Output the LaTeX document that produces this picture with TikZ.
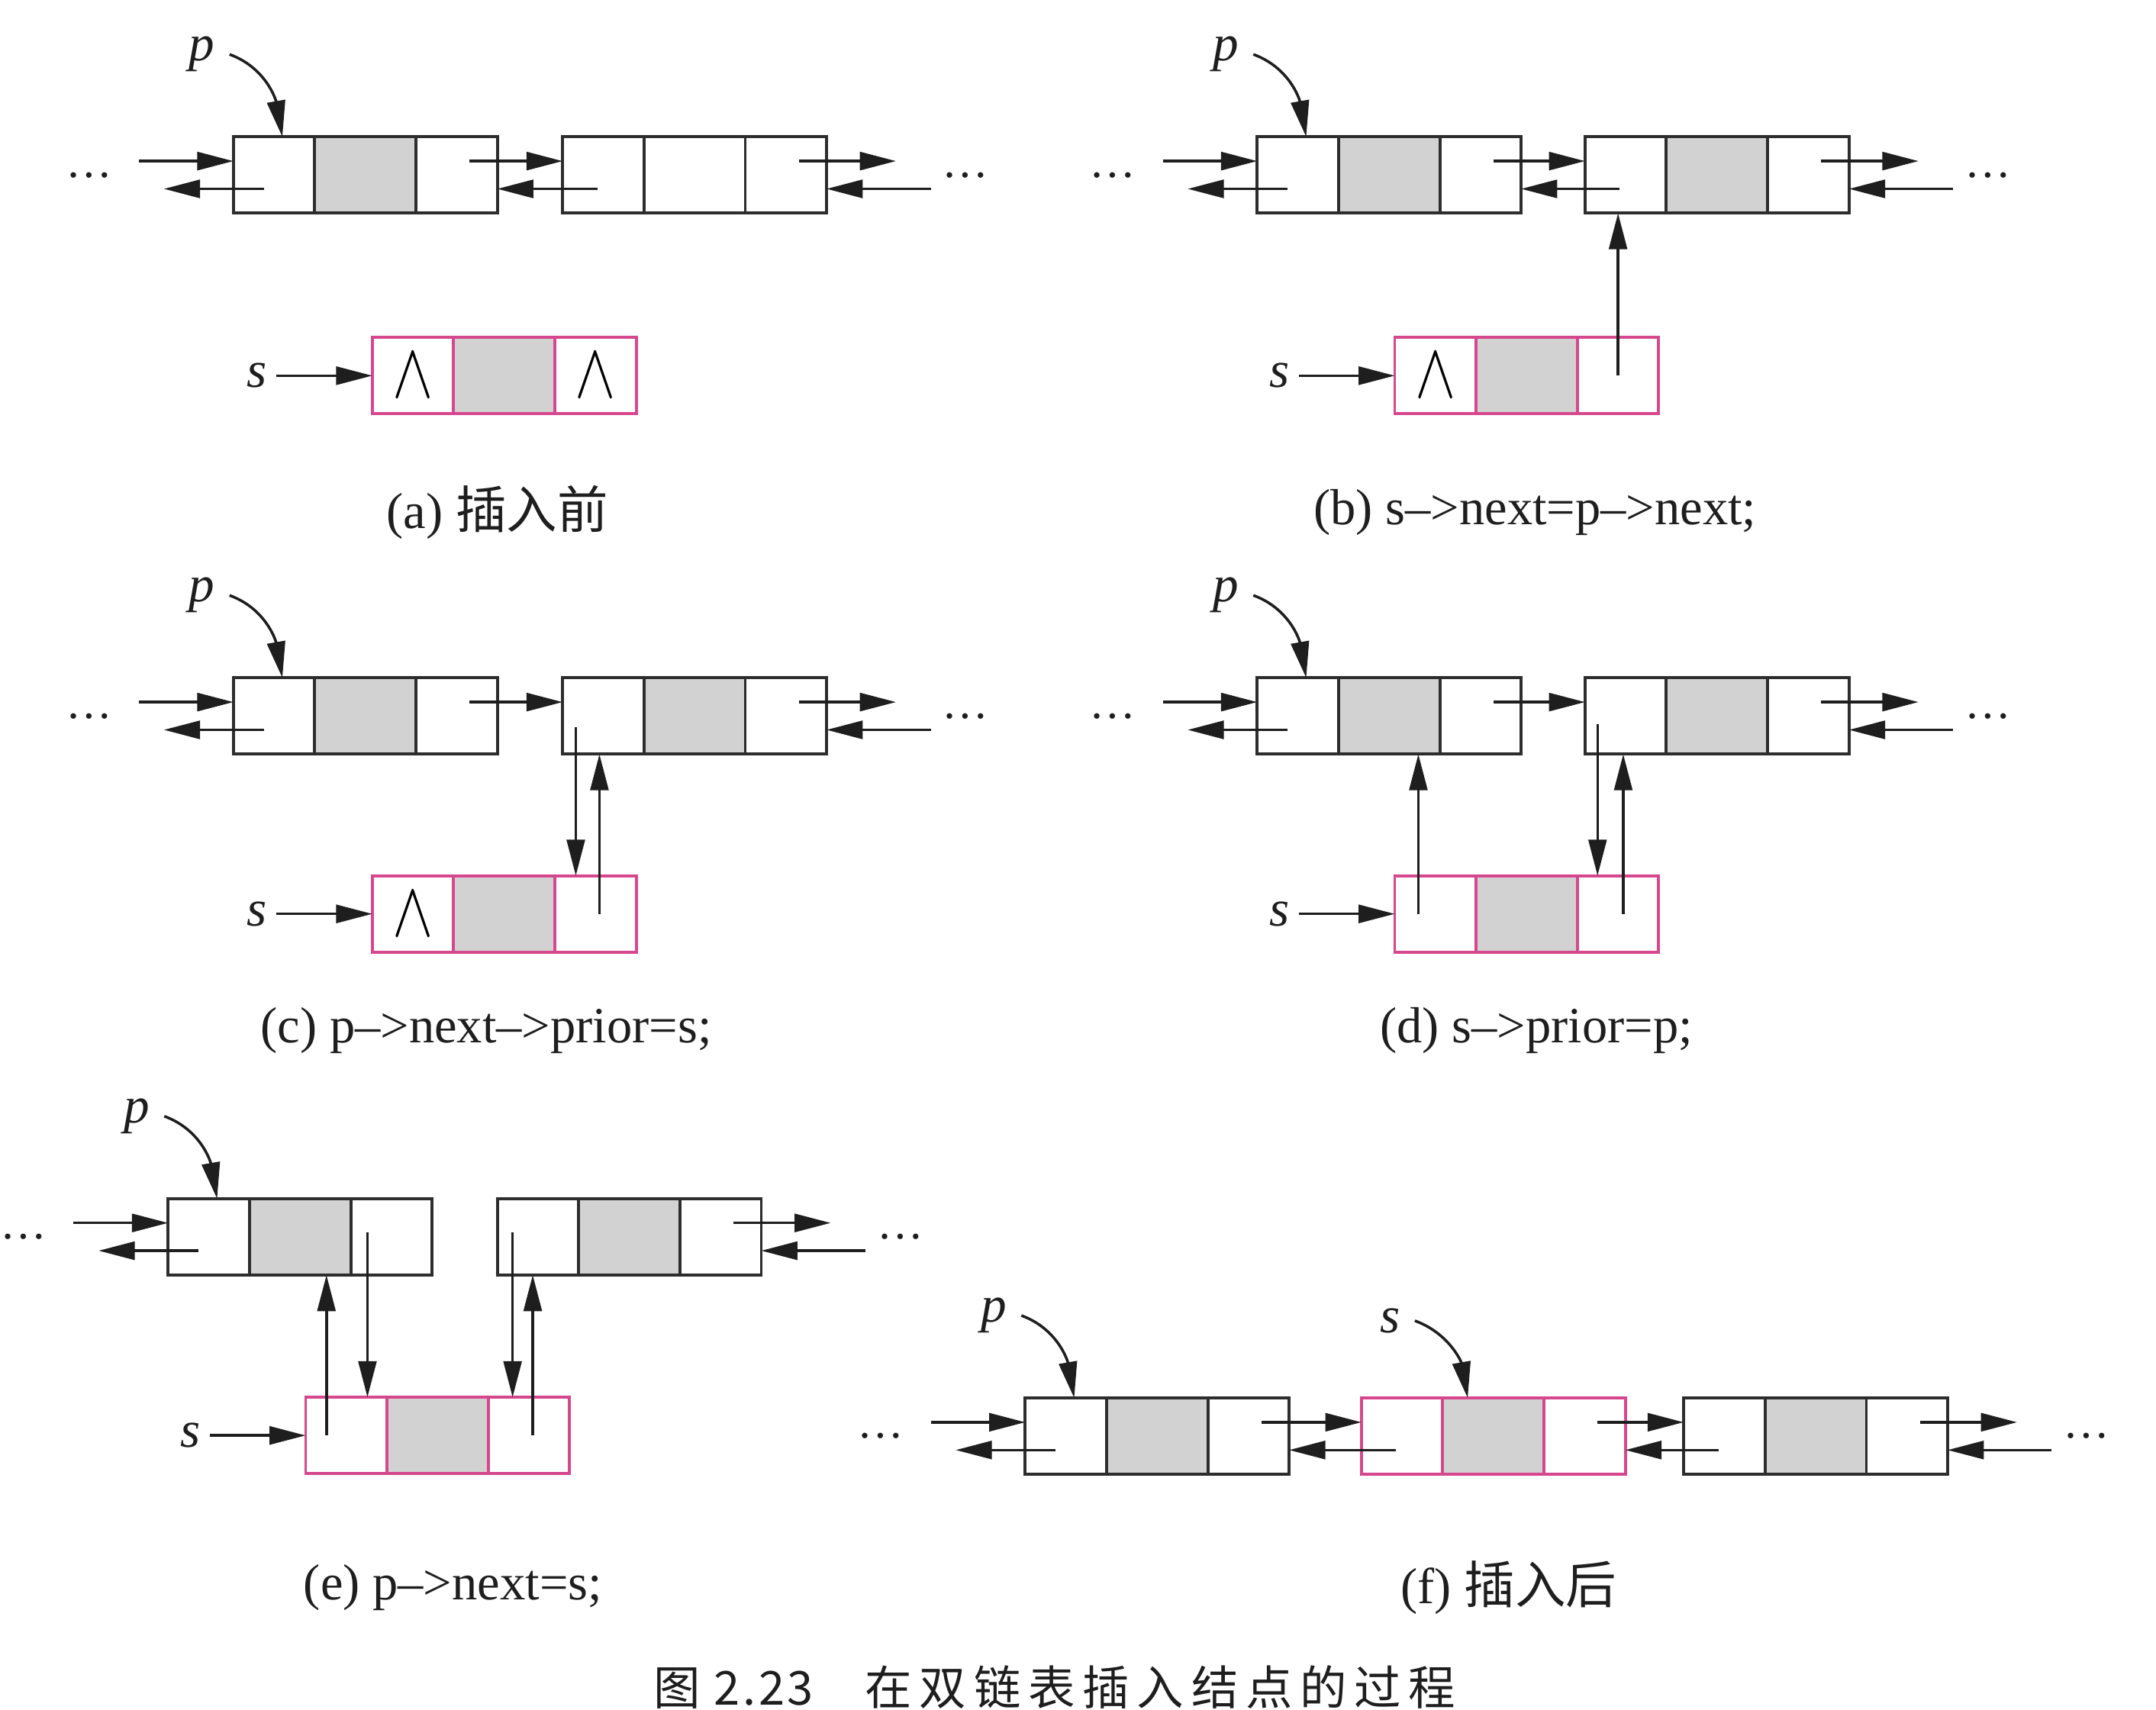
\documentclass[tikz,border=0pt]{standalone}
\usepackage{fontspec}
\setmainfont{Liberation Serif}
\newfontfamily\cjk{Noto Sans CJK SC}
\newfontfamily\fignum[LetterSpace=6]{Noto Sans CJK SC}
\newfontfamily\titlefont[LetterSpace=16]{Noto Sans CJK SC}
\usepackage{tikz}
\usetikzlibrary{positioning,arrows.meta,calc}

\definecolor{edge}{RGB}{45,45,45}
\definecolor{cellgray}{RGB}{210,210,210}
\definecolor{rose}{RGB}{214,72,142}
\definecolor{ink}{RGB}{30,30,30}

\newcommand{\nullp}{\scalebox{1.25}[1.6]{$\wedge$}}
% one node of the list: name, west point, extra style, left text, right text
\newcommand{\dnode}[5]{%
  \node[cell,#3,anchor=west] (#1-l) at (#2) {#4};
  \node[cell,data,#3,right=0pt of #1-l] (#1-d) {};
  \node[cell,#3,right=0pt of #1-d] (#1-r) {#5};
}

\begin{document}
\begin{tikzpicture}[
cell/.style={
  draw=edge,
  line width=0.6pt,
  minimum width=5.85mm,
  minimum height=5.5mm,
  inner sep=0pt,
  outer sep=0pt},
data/.style={fill=cellgray, minimum width=7.3mm},
snode/.style={draw=rose},
link/.style={-{Triangle[length=2.6mm,width=1.3mm]}, line width=0.55pt, draw=ink},
ptr/.style={inner sep=0pt, text=ink, font={\fontsize{10.5}{12}\selectfont\itshape}},
dots/.style={inner sep=0pt, text=ink, font={\fontsize{9.5}{12}\selectfont}},
caption/.style={inner sep=0pt, text=ink, font={\fontsize{10.4}{12}\selectfont}},
figtitle/.style={inner sep=0pt, text=ink, font={\fontsize{9.6}{12}\selectfont}}
]
\useasboundingbox (0,0) rectangle (15.52,-12.31);

% (a)
\dnode{a1}{1.68,-1.26}{}{}{}
\dnode{a2}{4.05,-1.26}{fill=white}{}{}
\dnode{as}{2.68,-2.705}{snode}{\nullp}{\nullp}
% (b)
\dnode{b1}{9.05,-1.26}{}{}{}
\dnode{b2}{11.41,-1.26}{}{}{}
\dnode{bs}{10.04,-2.705}{snode}{\nullp}{}
% (c)
\dnode{c1}{1.68,-5.155}{}{}{}
\dnode{c2}{4.05,-5.155}{}{}{}
\dnode{cs}{2.68,-6.58}{snode}{\nullp}{}
% (d)
\dnode{d1}{9.05,-5.155}{}{}{}
\dnode{d2}{11.41,-5.155}{}{}{}
\dnode{ds}{10.04,-6.58}{snode}{}{}
% (e)
\dnode{e1}{1.21,-8.905}{}{}{}
\dnode{e2}{3.58,-8.905}{}{}{}
\dnode{es}{2.20,-10.335}{snode}{}{}
% (f)
\dnode{f1}{7.38,-10.34}{}{}{}
\dnode{f2}{9.80,-10.34}{snode}{}{}
\dnode{f3}{12.12,-10.34}{}{}{}

% links in and out of each row
\foreach \u in {a1,b1,c1,d1,e1,f1} {
  \node[dots] (\u-dots) at ([xshift=-10.4mm]\u-l.west) {\ldots};
  \draw[link] ([shift={(-6.8mm,1mm)}]\u-l.west) -- ([yshift=1mm]\u-l.west);
  \draw[link] ([shift={(2.2mm,-1mm)}]\u-l.west) -- ([shift={(-5mm,-1mm)}]\u-l.west);
  \coordinate (\u-tip) at ([xshift=0.6mm]\u-l.north);
  \node[ptr, above left=4.6mm and 4.8mm of \u-tip] (\u-p) {p};
  \draw[link] ([xshift=1mm]\u-p.east) to[out=-20,in=100] (\u-tip);
}
\foreach \v in {a2,b2,c2,d2,e2,f3} {
  \draw[link] ([shift={(-2mm,1mm)}]\v-r.east) -- ([shift={(5mm,1mm)}]\v-r.east);
  \draw[link] ([shift={(7.5mm,-1mm)}]\v-r.east) -- ([yshift=-1mm]\v-r.east);
  \node[dots] (\v-dots) at ([xshift=10mm]\v-r.east) {\ldots};
}
\foreach \u/\v in {a1/a2,b1/b2,f1/f2,f2/f3} {
  \draw[link] ([shift={(-2mm,1mm)}]\u-r.east) -- ([yshift=1mm]\v-l.west);
  \draw[link] ([shift={(2.5mm,-1mm)}]\v-l.west) -- ([yshift=-1mm]\u-r.east);
}
\foreach \u/\v in {c1/c2,d1/d2}
  \draw[link] ([shift={(-2mm,1mm)}]\u-r.east) -- ([yshift=1mm]\v-l.west);

% s pointers
\foreach \u in {as,bs,cs,ds,es} {
  \node[ptr, left=7.5mm of \u-l] (\u-s) {s};
  \draw[link] ([xshift=0.6mm]\u-s.east) -- (\u-l.west);
}
\coordinate (f-stip) at ([xshift=1.8mm]f2-d.north west);
\node[ptr, above left=4.6mm and 4.8mm of f-stip] (f-s) {s};
\draw[link] ([xshift=1mm]f-s.east) to[out=-20,in=100] (f-stip);

% (b) s->next
\draw[link] (bs-r.center) -- (bs-r.center |- b2-l.south);
% (c)
\coordinate (c-prior) at ([shift={(0.95mm,-0.8mm)}]c2-l.west);
\coordinate (c-next) at ([xshift=3.2mm]cs-r.west);
\draw[link] (c-prior) -- (c-prior |- cs-r.north);
\draw[link] (c-next) -- (c-next |- c2-l.south);
% (d)
\coordinate (d-prior) at ([xshift=1.7mm]ds-l.west);
\coordinate (d-back) at ([shift={(0.9mm,-0.6mm)}]d2-l.west);
\coordinate (d-next) at ([xshift=3.3mm]ds-r.west);
\draw[link] (d-prior) -- (d-prior |- d1-d.south);
\draw[link] (d-back) -- (d-back |- ds-r.north);
\draw[link] (d-next) -- (d-next |- d2-l.south);
% (e)
\coordinate (e-prior) at ([xshift=1.5mm]es-l.west);
\coordinate (e-next) at ([shift={(1.2mm,0.3mm)}]e1-r.west);
\coordinate (e-back) at ([shift={(1.1mm,0.3mm)}]e2-l.west);
\coordinate (e-snext) at ([xshift=3.2mm]es-r.west);
\draw[link] (e-prior) -- (e-prior |- e1-d.south);
\draw[link] (e-next) -- (e-next |- es-l.north);
\draw[link] (e-back) -- (e-back |- es-r.north);
\draw[link] (e-snext) -- (e-snext |- e2-l.south);

% captions
\node[caption] (cap-a) at (3.58,-3.69) {(a) {\cjk 插入前}};
\node[caption] (cap-b) at (11.05,-3.69) {(b) s--{>}next=p--{>}next;};
\node[caption] (cap-c) at (3.50,-7.42) {(c) p--{>}next--{>}prior=s;};
\node[caption] (cap-d) at (11.06,-7.42) {(d) s--{>}prior=p;};
\node[caption] (cap-e) at (3.26,-11.43) {(e) p--{>}next=s;};
\node[caption] (cap-f) at (10.86,-11.43) {(f) {\cjk 插入后}};
\node[figtitle, anchor=west] (fig-title) at (4.70,-12.15) {{\fignum 图 2.23}\hspace{1.1em}{\titlefont 在双链表插入结点的过程}};
\end{tikzpicture}
\end{document}
